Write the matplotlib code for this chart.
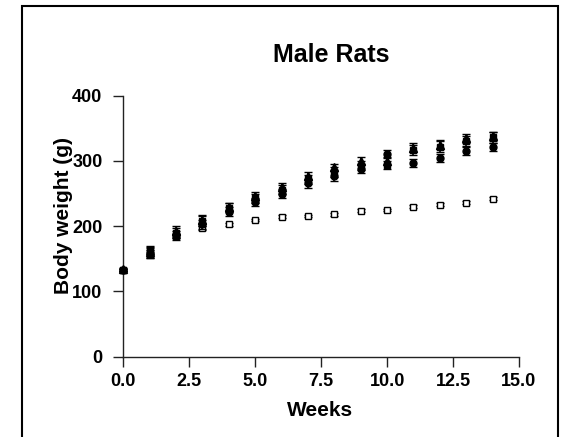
import matplotlib
matplotlib.use("Agg")
import matplotlib.pyplot as plt
from matplotlib.patches import Rectangle

weeks = [0, 1, 2, 3, 4, 5, 6, 7, 8, 9, 10, 11, 12, 13, 14]
sq_vals = [133, 160, 190, 208, 228, 243, 256, 272, 283, 293, 294, 317, 322, 331, 336]
sq_err = [2, 8, 8, 7, 7, 7, 7, 7, 7, 7, 6, 8, 8, 8, 8]
ci_vals = [133, 159, 186, 203, 222, 237, 250, 266, 277, 288, 311, 297, 305, 315, 321]
ci_err = [2, 7, 7, 7, 7, 6, 7, 7, 7, 7, 6, 6, 6, 6, 6]
tri_vals = [134, 161, 192, 210, 230, 246, 260, 277, 290, 300, 300, 320, 325, 335, 338]
tri_err = [2, 8, 8, 7, 6, 6, 6, 6, 6, 6, 6, 7, 7, 7, 7]
ctl_vals = [133, 160, 185, 197, 203, 209.5, 214.5, 215.5, 218, 224, 225, 230, 233, 236, 242]
ctl_err = [2, 3, 3, 3, 2, 2, 2, 2, 2, 2, 2, 2, 2, 2, 2]
xticks = [0.0, 2.5, 5.0, 7.5, 10.0, 12.5, 15.0]
yticks = [0, 100, 200, 300, 400]

plt.rcParams['font.family'] = ['Liberation Sans', 'DejaVu Sans']
fig = plt.figure(figsize=(5.64, 4.37), dpi=100)
ax = fig.add_axes([123.3/564, 1-356.7/437, 395.7/564, 261/437])

eb = dict(color='black', ecolor='black', elinewidth=1.2, capsize=3, capthick=1.5, linestyle='none')
series = [
    (ctl_vals, ctl_err, 's', 5.0, 'white', 3),
    (ci_vals, ci_err, 'o', 5.0, 'black', 4),
    (sq_vals, sq_err, 's', 4.8, 'black', 4),
    (tri_vals, tri_err, '^', 5.5, 'black', 4),
]
for vals, err, mk, ms, fc, z in series:
    cont = ax.errorbar(weeks, vals, yerr=err, marker=mk, markersize=ms, markerfacecolor=fc,
                       markeredgecolor='black', markeredgewidth=1.0, zorder=z, **eb)
    for art in cont.get_children():
        art.set_clip_on(False)

ax.set_xlim(0, 15)
ax.set_ylim(0, 400)
ax.set_xticks(xticks)
ax.set_xticklabels([f"{t:.1f}" for t in xticks])
ax.set_yticks(yticks)
ax.set_yticklabels([str(t) for t in yticks])
for s in ['top', 'right']:
    ax.spines[s].set_visible(False)
for s in ['left', 'bottom']:
    ax.spines[s].set_linewidth(1.0)
    ax.spines[s].set_color('#222222')
ax.tick_params(axis='both', direction='out', length=7, width=1.0, color='#222222',
               labelsize=13)
ax.tick_params(axis='y', pad=8)
ax.tick_params(axis='x', pad=5)
for lab in ax.get_xticklabels() + ax.get_yticklabels():
    lab.set_fontweight('bold')

ax.set_ylabel('Body weight (g)', fontsize=15, fontweight='bold')
ax.yaxis.set_label_coords(-0.128, 0.54)
ax.set_xlabel('Weeks', fontsize=15, fontweight='bold')
ax.xaxis.set_label_coords(0.497, -0.17)
ax.set_title('Male Rats', fontsize=18, fontweight='bold', x=0.525, y=1.129, pad=0)

fig.add_artist(Rectangle((22/564, -0.05), (558-22)/564, 1.05 - 6/437, transform=fig.transFigure,
                         fill=False, edgecolor='black', linewidth=1.5, clip_on=False))

fig.savefig('out.png', dpi=100)
